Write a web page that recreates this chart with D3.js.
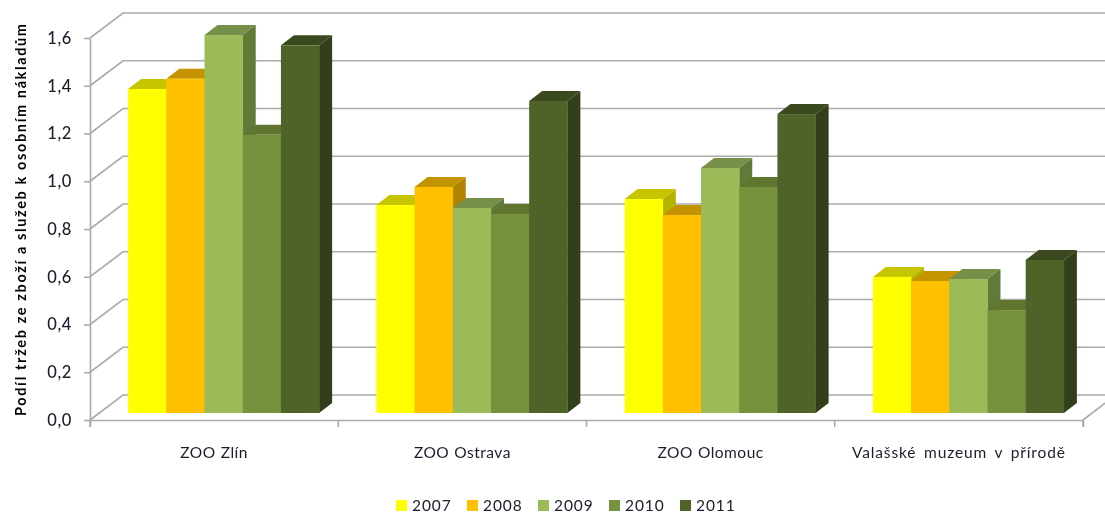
<!DOCTYPE html>
<html><head><meta charset="utf-8">
<script src="https://cdn.jsdelivr.net/npm/d3@7"></script>
<style>
html,body{margin:0;padding:0;background:#fff;overflow:hidden}
svg{filter:blur(0.35px)}
text{font-family:Lato,"Open Sans",sans-serif;fill:#1c1c2c}
</style></head><body>
<svg id="c" width="1105" height="513"></svg>
<script>
const categories=["ZOO Zlín","ZOO Ostrava","ZOO Olomouc","Valašské muzeum v přírodě"];
const years=["2007","2008","2009","2010","2011"];
const v2007=[1.357,0.871,0.896,0.570];
const v2008=[1.400,0.947,0.829,0.553];
const v2009=[1.583,0.859,1.026,0.561];
const v2010=[1.165,0.834,0.947,0.431];
const v2011=[1.540,1.307,1.252,0.641];
const seriesValues=[v2007,v2008,v2009,v2010,v2011];
const yTicks=[0,0.2,0.4,0.6,0.8,1.0,1.2,1.4,1.6];
const front=["#FFFF00","#FFC000","#9BBB59","#76923C","#4F6228"];
const topCol=["#C6C600","#C49400","#76904A","#5F7530","#3B4A1E"];
const sideCol=["#B4B400","#B08400","#627A38","#50642A","#323F1A"];
const gridCol="#ABABAB";

const svg=d3.select("#c");
const x0=90,x1=1083,yB=420,yT=38;
const wallDx=33,wallDy=-25;      // depth of the floor
const barDx=9.5,barDy=-7;        // front plane of bars
const depthDx=13,depthDy=-10;    // depth of a bar

const y=d3.scaleLinear().domain([0,1.6]).range([yB,yT]);
const xCat=d3.scaleBand().domain(categories).range([x0,x1]).paddingInner(0).paddingOuter(0);
const groupW=191;
const xSer=d3.scaleBand().domain(years).range([0,groupW]);
const groupX=c=>xCat(c)+(xCat.bandwidth()-groupW)/2+barDx;

// grid on wall
const grid=svg.append("g").attr("fill","none").attr("stroke",gridCol).attr("stroke-width",1.6);
yTicks.forEach(t=>{
  grid.append("path").attr("d",d3.line()([[x0,y(t)],[x0+wallDx,y(t)+wallDy],[1106,y(t)+wallDy]]));
});
// floor right edge
grid.append("path").attr("d",d3.line()([[x1,yB],[x1+wallDx,yB+wallDy]]));

// axes
const axL=d3.axisLeft(y).tickValues(yTicks).tickSize(6).tickSizeOuter(0).tickPadding(6)
  .tickFormat(d=>d3.format(".1f")(d).replace(".",","));
const gL=svg.append("g").attr("transform",`translate(${x0},0)`).call(axL);
gL.selectAll("text").attr("font-size",16.5).attr("font-weight",500).attr("x",-18).attr("letter-spacing","0.6");
const axB=d3.axisBottom(xCat).tickSize(0).tickPadding(27).tickSizeOuter(7);
const gB=svg.append("g").attr("transform",`translate(0,${yB})`).call(axB);
gB.selectAll("text").attr("font-size",15.5).attr("letter-spacing","0.5").attr("word-spacing","0.5");
gB.selectAll(".tick:last-of-type text").attr("letter-spacing","0.85").attr("word-spacing","3");
// category boundary ticks
const bounds=categories.map(c=>xCat(c)).concat([x1]);
gB.selectAll("line.b").data(bounds).enter().append("line").attr("class","b")
  .attr("x1",d=>d).attr("x2",d=>d).attr("y1",0).attr("y2",7);
svg.selectAll(".domain,.tick line,line.b").attr("stroke",gridCol).attr("stroke-width",1.6);

// bars
const gBars=svg.append("g");
categories.forEach((c,ci)=>{
  years.forEach((yr,si)=>{
    const v=seriesValues[si][ci];
    const bx=groupX(c)+xSer(yr), bw=xSer.bandwidth();
    const by=y(v)+barDy, b0=y(0)+barDy;
    const g=gBars.append("g");
    g.append("path").attr("fill",topCol[si]).attr("d",d3.line()([[bx,by],[bx+depthDx,by+depthDy],[bx+bw+depthDx,by+depthDy],[bx+bw,by]])+"Z");
    g.append("path").attr("fill",sideCol[si]).attr("d",d3.line()([[bx+bw,by],[bx+bw+depthDx,by+depthDy],[bx+bw+depthDx,b0+depthDy],[bx+bw,b0]])+"Z");
    g.append("rect").attr("fill",front[si]).attr("x",bx).attr("y",by).attr("width",bw+0.3).attr("height",b0-by);
  });
});

// y title
svg.append("text").attr("transform","translate(26,220) rotate(-90)")
  .attr("text-anchor","middle").attr("font-size",14.5).attr("font-weight",700).style("fill","#000")
  .attr("textLength",392).text("Podíl tržeb ze zboží a služeb k osobním nákladům");

// legend
const legendX=d3.scalePoint().domain(years).range([396,680]);
const lg=svg.append("g").selectAll("g").data(years).enter().append("g")
  .attr("transform",d=>`translate(${legendX(d)},500)`);
lg.append("rect").attr("width",11).attr("height",11).attr("fill",(d,i)=>front[i]);
lg.append("text").attr("x",16).attr("y",11).attr("font-size",15.5).attr("letter-spacing","0.9").text(d=>d);
</script>
</body></html>
